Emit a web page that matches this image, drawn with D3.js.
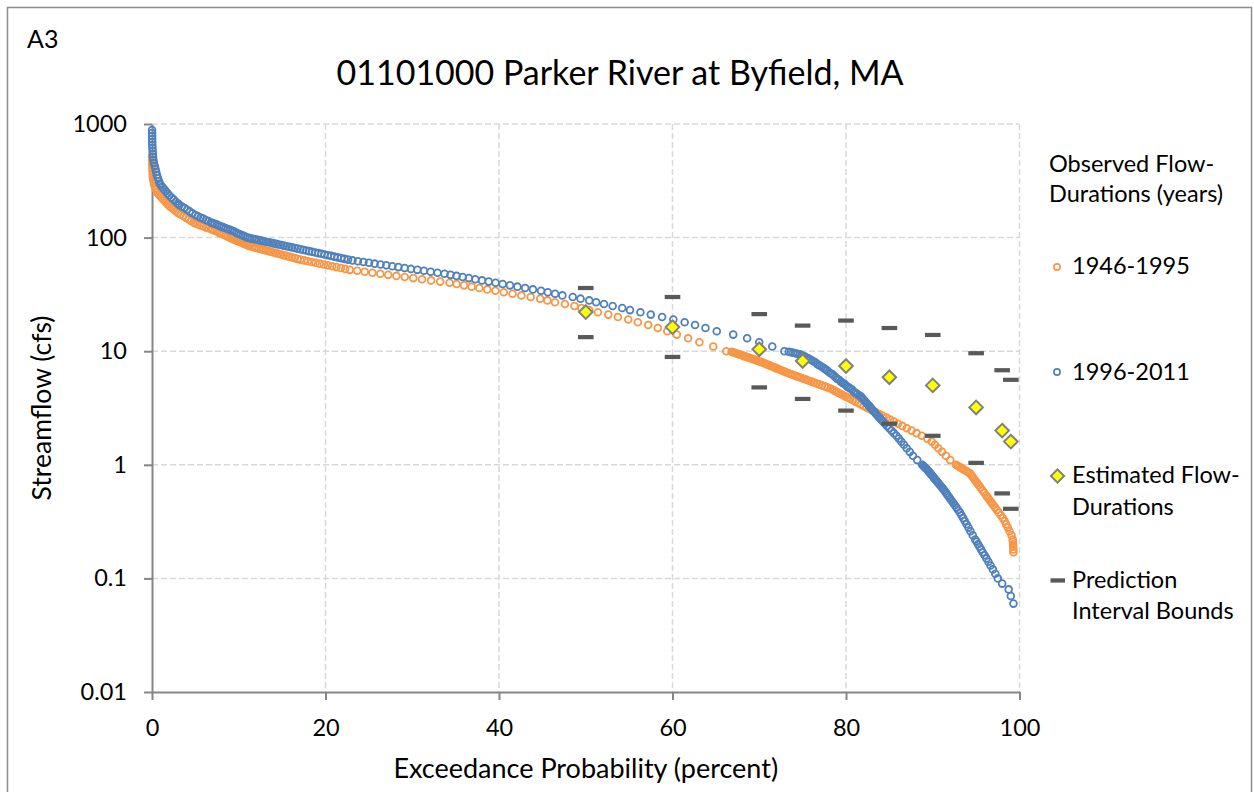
<!DOCTYPE html>
<html>
<head>
<meta charset="utf-8">
<script src="https://cdn.jsdelivr.net/npm/d3@7"></script>
<style>
  body { margin: 0; background: #fff; }
  svg { display: block; font-family: Lato, "Open Sans", sans-serif; }
</style>
</head>
<body>
<svg id="chart" width="1254" height="792"></svg>
<script>
// Observed flow-duration points, [exceedance percent, streamflow cfs]
const obs1946 = [
  [0.01,520],[0.02,480],[0.03,445],[0.04,415],[0.06,385],[0.08,360],[0.11,340],[0.15,320],[0.22,300],[0.3,285],
  [0.4,272],[0.5,262],[0.6,250],[0.8,239],[1.0,230],[1.2,221],[1.4,213],[1.6,205],[1.8,197],[2.0,190],
  [2.25,183],[2.5,177],[2.75,171],[3.0,165],[3.3,160],[3.6,155],[3.9,150],[4.2,145],[4.5,140],[4.8,136],
  [5.0,133],[5.3,131],[5.6,128],[5.9,126],[6.2,123],[6.5,121],[6.8,119],[7.0,117],[7.25,115],[7.5,113],
  [7.75,110],[8.0,108],[8.25,106],[8.5,104],[8.75,102],[9.0,100],
  [9.13,99],[9.27,98],[9.40,97],[9.54,96],[9.68,95],[9.82,94],[9.95,93],[10.10,92],[10.24,91],[10.39,90],
  [10.53,89],[10.68,88],[10.83,87],[10.98,86],[11.14,85],[11.30,84],[11.56,83],[11.82,82],[12.08,81],[12.34,80],
  [12.61,79],[12.88,78],[13.16,77],[13.44,76],[13.72,75],[14.01,74],[14.30,73],[14.59,72],[14.89,71],[15.19,70],
  [15.50,69],[15.81,68],[16.12,67],[16.45,66],[16.77,65],[17.10,64],[17.54,63],[17.97,62],[18.42,61],[18.87,60],
  [19.33,59],[19.81,58],[20.28,57],[20.77,56],[21.26,55],[21.77,54],[22.28,53],[22.80,52],[23.65,51],[24.52,50],
  [25.41,49],[26.32,48],[27.23,47],[28.17,46],[29.14,45],[30.12,44],[31.13,43],[32.17,42],[33.22,41],[34.30,40],
  [35.12,39],[35.97,38],[36.84,37],[37.73,36],[38.64,35],[39.58,34],[40.55,33],[41.56,32],[42.58,31],[43.65,30],
  [44.75,29],[45.58,28],[46.45,27],[47.6,26],[48.7,25],[49.5,24],[50.4,23],[51.4,22],[52.6,21],[53.7,20],
  [54.9,19],[56.0,18],[57.2,17],[58.3,16],[59.4,15],[60.5,14],[61.8,13],[63.1,12],[64.7,11],[66.2,10],
  [66.8,9.9],[66.97,9.8],[67.13,9.7],[67.30,9.6],[67.48,9.5],[67.65,9.4],[67.83,9.3],[68.01,9.2],[68.19,9.1],[68.37,9.0],
  [68.55,8.9],[68.74,8.8],[68.93,8.7],[69.12,8.6],[69.31,8.5],[69.50,8.4],[69.70,8.3],[69.90,8.2],[70.10,8.1],[70.27,8.0],
  [70.45,7.9],[70.63,7.8],[70.81,7.7],[70.99,7.6],[71.17,7.5],[71.36,7.4],[71.55,7.3],[71.74,7.2],[71.93,7.1],[72.13,7.0],
  [72.33,6.9],[72.53,6.8],[72.74,6.7],[72.95,6.6],[73.16,6.5],[73.38,6.4],[73.60,6.3],[73.85,6.2],[74.11,6.1],[74.36,6.0],
  [74.63,5.9],[74.90,5.8],[75.17,5.7],[75.45,5.6],[75.73,5.5],[76.02,5.4],[76.31,5.3],[76.61,5.2],[76.92,5.1],[77.23,5.0],
  [77.55,4.9],[77.87,4.8],[78.20,4.7],[78.43,4.6],[78.67,4.5],[78.91,4.4],[79.16,4.3],[79.42,4.2],[79.68,4.1],[79.94,4.0],
  [80.22,3.9],[80.50,3.8],[80.79,3.7],[81.08,3.6],[81.39,3.5],[81.70,3.4],[82.03,3.3],[82.37,3.2],[82.71,3.1],[83.08,3.0],
  [83.45,2.9],[83.83,2.8],[84.23,2.7],[84.65,2.6],[85.08,2.5],[85.53,2.4],[85.99,2.3],[86.49,2.2],[87.01,2.1],[87.56,2.0],
  [88.13,1.9],[88.73,1.8],[89.37,1.7],[89.88,1.6],[90.25,1.5],[90.64,1.4],[91.07,1.3],[91.52,1.2],[92.02,1.1],[92.67,1.0],
  [92.86,0.98],[93.05,0.96],[93.25,0.94],[93.45,0.92],[93.66,0.90],[93.87,0.88],[94.08,0.86],[94.30,0.84],[94.45,0.81],[94.61,0.78],
  [94.77,0.75],[94.94,0.72],[95.12,0.69],[95.31,0.66],[95.50,0.63],[95.70,0.60],[95.92,0.57],[96.15,0.54],[96.30,0.52],[96.46,0.50],
  [96.63,0.48],[96.81,0.46],[96.99,0.44],[97.19,0.42],[97.40,0.40],[97.61,0.38],[97.84,0.36],[98.07,0.34],[98.29,0.32],[98.46,0.30],
  [98.65,0.28],[98.86,0.26],[99.08,0.24],[99.22,0.22],[99.24,0.21],[99.26,0.20],[99.27,0.19],[99.29,0.18],[99.30,0.17]
];

const obs1996 = [
  [0.005,886],[0.01,833],[0.015,784],[0.02,738],[0.03,694],[0.04,653],[0.05,615],[0.07,578],[0.09,544],[0.12,512],
  [0.16,482],[0.22,454],[0.32,427],[0.4,402],[0.48,378],[0.57,356],[0.68,335],[0.8,315],[0.9,299],[1.0,290],
  [1.2,278],[1.4,267],[1.6,256],[1.8,245],[2.0,235],[2.25,225],[2.5,216],[2.75,207],[3.0,199],[3.15,194],
  [3.45,188],[3.75,182],[4.05,176],[4.35,170],[4.65,164],[5.0,158],[5.3,154],[5.6,150],[5.9,147],[6.2,143],
  [6.5,140],[6.8,136],[7.0,134],[7.25,132],[7.5,130],[7.75,127],[8.0,125],[8.25,123],[8.5,121],[8.75,119],
  [9.0,117],[9.25,115],[9.5,113],[9.75,110],[10.0,108],[10.25,106],[10.5,104],[10.75,102],[11.0,100],
  [11.26,99],[11.52,98],[11.79,97],[12.05,96],[12.33,95],[12.60,94],[12.88,93],[13.16,92],[13.44,91],[13.73,90],
  [14.01,89],[14.31,88],[14.60,87],[14.90,86],[15.20,85],[15.51,84],[15.82,83],[16.13,82],[16.45,81],[16.77,80],
  [17.10,79],[17.43,78],[17.77,77],[18.11,76],[18.45,75],[18.81,74],[19.16,73],[19.52,72],[19.88,71],[20.26,70],
  [20.64,69],[21.01,68],[21.40,67],[21.80,66],[22.19,65],[22.60,64],[23.11,63],[23.73,62],[24.37,61],[25.01,60],
  [25.66,59],[26.34,58],[27.01,57],[27.70,56],[28.40,55],[29.12,54],[29.85,53],[30.59,52],[31.35,51],[32.12,50],
  [32.91,49],[33.72,48],[34.41,47],[35.10,46],[35.81,45],[36.53,44],[37.27,43],[38.04,42],[38.81,41],[39.61,40],
  [40.42,39],[41.26,38],[42.12,37],[43.01,36],[43.91,35],[44.85,34],[45.63,33],[46.46,32],[47.3,31],[48.5,30],
  [49.4,29],[50.4,28],[51.2,27],[52.1,26],[53.1,25],[54.2,24],[55.1,23],[56.3,22],[57.5,21],[58.8,20],
  [60.1,19],[61.4,18],[62.6,17],[63.8,16],[65.1,15],[67.0,14],[68.6,13],[70.0,12],[71.5,11],[72.9,10],
  [73.4,9.9],[73.65,9.8],[73.9,9.7],[74.15,9.6],[74.4,9.5],[74.7,9.4],[74.95,9.2],[75.2,9.0],[75.45,8.8],[75.7,8.6],
  [75.95,8.4],[76.2,8.2],[76.45,8.0],[76.7,7.7],[76.95,7.5],[77.2,7.3],[77.45,7.1],[77.65,6.9],[77.8,6.8],[78.0,6.6],
  [78.2,6.4],[78.4,6.3],[78.6,6.1],[78.8,5.9],[79.0,5.7],[79.2,5.6],[79.4,5.4],[79.55,5.3],[79.7,5.2],[79.9,5.1],
  [80.1,4.9],[80.3,4.8],[80.5,4.7],[80.7,4.6],[80.9,4.4],[81.1,4.3],[81.3,4.2],[81.5,4.1],[81.7,4.0],[81.82,3.9],
  [81.95,3.8],[82.09,3.7],[82.22,3.6],[82.36,3.5],[82.51,3.4],[82.66,3.3],[82.81,3.2],[82.97,3.1],[83.13,3.0],[83.30,2.9],
  [83.47,2.8],[83.65,2.7],[83.84,2.6],[84.05,2.5],[84.27,2.4],[84.50,2.3],[84.73,2.2],[84.98,2.1],[85.25,2.0],[85.52,1.9],
  [85.81,1.8],[86.09,1.7],[86.37,1.6],[86.68,1.5],[87.00,1.4],[87.35,1.3],[87.72,1.2],[88.21,1.1],[88.78,1.0],[88.90,0.98],
  [89.02,0.96],[89.14,0.94],[89.27,0.92],[89.40,0.90],[89.50,0.88],[89.61,0.86],[89.72,0.84],[89.84,0.82],[89.95,0.80],[90.07,0.78],
  [90.19,0.76],[90.32,0.74],[90.45,0.72],[90.58,0.70],[90.71,0.68],[90.85,0.66],[91.00,0.64],[91.15,0.62],[91.30,0.60],[91.44,0.58],
  [91.58,0.56],[91.72,0.54],[91.88,0.52],[92.03,0.50],[92.20,0.48],[92.37,0.46],[92.55,0.44],[92.74,0.42],[92.93,0.40],[93.14,0.38],
  [93.32,0.36],[93.50,0.34],[93.69,0.32],[93.90,0.30],[94.12,0.28],[94.35,0.26],[94.61,0.24],[94.89,0.22],[95.05,0.21],[95.22,0.20],
  [95.39,0.19],[95.57,0.18],[95.76,0.17],[95.97,0.16],[96.19,0.15],[96.42,0.14],[96.66,0.13],[96.93,0.12],[97.21,0.11],[97.50,0.10],
  [98.00,0.09],[98.75,0.08],[99.00,0.07],[99.30,0.06]
];

// Estimated flow-durations and prediction interval bounds
const estPct   = [50, 60, 70, 75, 80, 85, 90, 95, 98, 99];
const estCfs   = [22.1, 16.3, 10.4, 8.2, 7.4, 5.9, 5.0, 3.2, 2.0, 1.6];
const upperCfs = [36, 30, 21.2, 16.8, 18.6, 16.0, 13.9, 9.6, 6.8, 5.6];
const lowerCfs = [13.3, 8.9, 4.8, 3.8, 3.0, 2.3, 1.8, 1.04, 0.56, 0.41];

// Axis ticks
const xTicks = [0, 20, 40, 60, 80, 100];
const yTicks = [0.01, 0.1, 1, 10, 100, 1000];
const yTickLabels = ["0.01", "0.1", "1", "10", "100", "1000"];

const orange = "#F79646";
const blue = "#4F81BD";
const axisGray = "#868686";
const gridGray = "#d9d9d9";
const boundGray = "#595959";
const markerR = 3.4;
const markerW = 1.8;

const svg = d3.select("#chart");
const plot = { left: 152, right: 1019.5, top: 124, bottom: 692 };

const x = d3.scaleLinear().domain([0, 100]).range([plot.left, plot.right]);
const y = d3.scaleLog().domain([0.01, 1000]).range([plot.bottom, plot.top]);

// Outer frame
svg.append("rect")
  .attr("x", 7.5).attr("y", 7.5).attr("width", 1244).attr("height", 820)
  .attr("fill", "#fff").attr("stroke", "#8c8c8c").attr("stroke-width", 1.5);

// Dashed gridlines
const gridH = svg.append("g");
gridH.selectAll("line").data(yTicks.filter(v => v > 0.01)).join("line")
  .attr("x1", x(0)).attr("x2", x(100))
  .attr("y1", d => y(d)).attr("y2", d => y(d))
  .attr("stroke", gridGray).attr("stroke-width", 1.5).attr("stroke-dasharray", "6,3");
const gridV = svg.append("g");
gridV.selectAll("line").data(xTicks.filter(v => v > 0)).join("line")
  .attr("x1", d => x(d)).attr("x2", d => x(d))
  .attr("y1", y(1000)).attr("y2", y(0.01))
  .attr("stroke", gridGray).attr("stroke-width", 1.5).attr("stroke-dasharray", "6,3");

// Axes
function styleAxis(g) {
  g.attr("font-family", null).attr("font-size", null);
  g.select(".domain").attr("stroke", axisGray).attr("stroke-width", 2);
  g.selectAll(".tick line").attr("stroke", axisGray).attr("stroke-width", 2);
  g.selectAll(".tick text").attr("fill", "#000").style("font-size", "23.5px")
    .style("font-family", "Lato, 'Open Sans', sans-serif");
}
svg.append("g")
  .attr("transform", `translate(${plot.left},0)`)
  .call(d3.axisLeft(y).tickValues(yTicks).tickFormat((d, i) => yTickLabels[i])
    .tickSize(8).tickPadding(17).tickSizeOuter(0))
  .call(styleAxis);
svg.append("g")
  .attr("transform", `translate(0,${plot.bottom})`)
  .call(d3.axisBottom(x).tickValues(xTicks).tickFormat(d3.format("d"))
    .tickSize(8).tickPadding(19).tickSizeOuter(0))
  .call(styleAxis);

// Observed series
function drawObserved(data, color) {
  svg.append("g").selectAll("circle").data(data).join("circle")
    .attr("cx", d => x(d[0])).attr("cy", d => y(d[1])).attr("r", markerR)
    .attr("fill", "none").attr("stroke", color).attr("stroke-width", markerW);
}
drawObserved(obs1946, orange);
drawObserved(obs1996, blue);

// Estimated flow-durations (diamonds)
const diamond = s => `M0,${-s}L${s},0L0,${s}L${-s},0Z`;
svg.append("g").selectAll("path").data(estPct).join("path")
  .attr("transform", (d, i) => `translate(${x(d)},${y(estCfs[i])})`)
  .attr("d", diamond(6.8))
  .attr("fill", "#ffff00").attr("stroke", "#808080").attr("stroke-width", 2);

// Prediction interval bounds (short bars)
const bounds = estPct.flatMap((p, i) => [[p, upperCfs[i]], [p, lowerCfs[i]]]);
svg.append("g").selectAll("rect").data(bounds).join("rect")
  .attr("x", d => x(d[0]) - 7.8).attr("y", d => y(d[1]) - 2.1)
  .attr("width", 15.6).attr("height", 4.2).attr("fill", boundGray);

// Titles
svg.append("text").attr("x", 27).attr("y", 48)
  .style("font-size", "25px").attr("fill", "#000").text("A3");
svg.append("text").attr("x", 620).attr("y", 85).attr("text-anchor", "middle")
  .style("font-size", "34px").attr("fill", "#000").text("01101000 Parker River at Byfield, MA");
svg.append("text").attr("x", (plot.left + plot.right) / 2).attr("y", 778).attr("text-anchor", "middle")
  .style("font-size", "27px").attr("fill", "#000").text("Exceedance Probability (percent)");
svg.append("text")
  .attr("transform", `translate(51,${(plot.top + plot.bottom) / 2}) rotate(-90)`)
  .attr("text-anchor", "middle")
  .style("font-size", "26.5px").attr("fill", "#000").text("Streamflow (cfs)");

// Legend
const lg = svg.append("g").style("font-size", "23.5px").attr("fill", "#000");
lg.append("text").attr("x", 1049).attr("y", 172).text("Observed Flow-");
lg.append("text").attr("x", 1049).attr("y", 201.5).text("Durations (years)");

lg.append("circle").attr("cx", 1057).attr("cy", 267).attr("r", 3.1)
  .attr("fill", "none").attr("stroke", orange).attr("stroke-width", 1.7);
lg.append("text").attr("x", 1072).attr("y", 274).text("1946-1995");

lg.append("circle").attr("cx", 1057).attr("cy", 372).attr("r", 3.1)
  .attr("fill", "none").attr("stroke", blue).attr("stroke-width", 1.7);
lg.append("text").attr("x", 1072).attr("y", 379.5).text("1996-2011");

lg.append("path").attr("transform", "translate(1057.5,476)").attr("d", diamond(6.6))
  .attr("fill", "#ffff00").attr("stroke", "#808080").attr("stroke-width", 2);
lg.append("text").attr("x", 1072).attr("y", 483).text("Estimated Flow-");
lg.append("text").attr("x", 1072).attr("y", 515).text("Durations");

lg.append("rect").attr("x", 1050.5).attr("y", 578.3).attr("width", 14.5).attr("height", 4.3)
  .attr("fill", boundGray);
lg.append("text").attr("x", 1072).attr("y", 587.5).text("Prediction");
lg.append("text").attr("x", 1072).attr("y", 619).text("Interval Bounds");
</script>
</body>
</html>
